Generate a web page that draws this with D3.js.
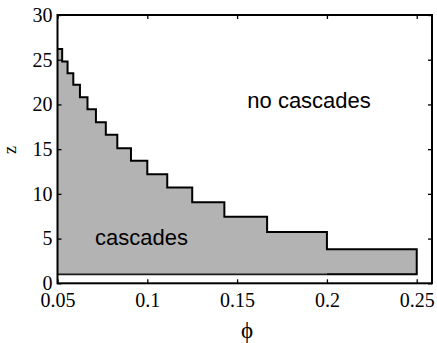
<!DOCTYPE html>
<html>
<head>
<meta charset="utf-8">
<script src="https://cdn.jsdelivr.net/npm/d3@7"></script>
<style>
  html, body { margin: 0; padding: 0; background: #fff; }
  svg { display: block; }
</style>
</head>
<body>
<svg id="chart" width="437" height="343"></svg>
<script>
// Step edges in phi (each step spans [phiEdges[i], phiEdges[i+1]])
const phiEdges = [0.05, 0.0526, 0.0556, 0.0588, 0.0625, 0.0667, 0.0714, 0.0769,
                  0.0833, 0.0909, 0.1, 0.1111, 0.125, 0.1429, 0.1667, 0.2, 0.25];
// Upper z bound of the cascade window on each step
const zUpper = [26.2, 24.8, 23.5, 22.2, 20.8, 19.45, 18.0, 16.6,
                15.1, 13.7, 12.2, 10.7, 9.05, 7.45, 5.75, 3.8];
// Lower z bound of the cascade window
const zLower = 1;

const xTicks = [0.05, 0.1, 0.15, 0.2, 0.25];
const xTickLabels = ["0.05", "0.1", "0.15", "0.2", "0.25"];
const yTicks = [0, 5, 10, 15, 20, 25, 30];
const yTickLabels = ["0", "5", "10", "15", "20", "25", "30"];
const xDomain = [0.05, 0.2585];
const yDomain = [0, 30];

const margin = { left: 57.5, top: 15, right: 5, bottom: 59.7 };
const W = 437, H = 343;
const iw = W - margin.left - margin.right;
const ih = H - margin.top - margin.bottom;

const svg = d3.select("#chart");
const g = svg.append("g").attr("transform", `translate(${margin.left},${margin.top})`);

const x = d3.scaleLinear().domain(xDomain).range([0, iw]);
const y = d3.scaleLinear().domain(yDomain).range([ih, 0]);

// Staircase outline: top edge step by step, then back along z = zLower
const pts = [];
zUpper.forEach((z, i) => {
  pts.push([phiEdges[i], z]);
  pts.push([phiEdges[i + 1], z]);
});
const last = phiEdges[phiEdges.length - 1];
pts.push([last, zLower]);
pts.push([phiEdges[0], zLower]);

const line = d3.line().x(d => x(d[0])).y(d => y(d[1]));

g.append("path")
  .attr("d", line(pts) + "Z")
  .attr("fill", "#b3b3b3")
  .attr("stroke", "none");

// Lower edge z = zLower
g.append("path")
  .attr("d", line([[phiEdges[0], zLower], [phiEdges[phiEdges.length - 2], zLower]]))
  .attr("fill", "none")
  .attr("stroke", "#1a1a1a")
  .attr("stroke-width", 1.6);

// Top/right outline of the window, closing along the last step's base
const outline = pts.slice(0, pts.length - 1).concat([[phiEdges[phiEdges.length - 2], zLower]]);
g.append("path")
  .attr("d", line(outline))
  .attr("fill", "none")
  .attr("stroke", "#000")
  .attr("stroke-width", 2)
  .attr("stroke-linejoin", "miter");

// Axes (ticks point inward, box frame)
const tickLen = 4;
const fontSerif = "'Liberation Serif', 'Times New Roman', serif";
const fontSans = "'Liberation Sans', Arial, sans-serif";

const xAxisB = d3.axisBottom(x).tickValues(xTicks).tickFormat((d, i) => xTickLabels[i])
  .tickSizeInner(-tickLen).tickSizeOuter(0).tickPadding(tickLen + 6);
const xAxisT = d3.axisTop(x).tickValues(xTicks).tickFormat("")
  .tickSizeInner(-tickLen).tickSizeOuter(0);
const yAxisL = d3.axisLeft(y).tickValues(yTicks).tickFormat((d, i) => yTickLabels[i])
  .tickSizeInner(-tickLen).tickSizeOuter(0).tickPadding(tickLen + 1);
const yAxisR = d3.axisRight(y).tickValues(yTicks).tickFormat("")
  .tickSizeInner(-tickLen).tickSizeOuter(0);

function styleAxis(sel) {
  sel.attr("font-family", fontSerif).attr("font-size", 20);
  sel.select(".domain").remove();
  sel.selectAll("line").attr("stroke", "#000").attr("stroke-width", 1.3);
  sel.selectAll("text").attr("fill", "#000");
}

g.append("g").attr("transform", `translate(0,${ih})`).call(xAxisB).call(styleAxis);
g.append("g").call(xAxisT).call(styleAxis);
g.append("g").call(yAxisL).call(styleAxis);
g.append("g").attr("transform", `translate(${iw},0)`).call(yAxisR).call(styleAxis);

g.append("rect")
  .attr("x", 0).attr("y", 0).attr("width", iw).attr("height", ih)
  .attr("fill", "none").attr("stroke", "#000").attr("stroke-width", 2);

// Region labels
g.append("text")
  .attr("x", 95 - margin.left).attr("y", 245 - margin.top)
  .attr("font-family", fontSans).attr("font-size", 22)
  .text("cascades");
g.append("text")
  .attr("x", 247.3 - margin.left).attr("y", 108.3 - margin.top)
  .attr("font-family", fontSans).attr("font-size", 22)
  .text("no cascades");

// Axis titles
svg.append("text")
  .attr("x", 247).attr("y", 338)
  .attr("text-anchor", "middle")
  .attr("font-family", fontSerif).attr("font-size", 23)
  .text("\u03d5");
svg.append("text")
  .attr("transform", "translate(16,150) rotate(-90)")
  .attr("text-anchor", "middle")
  .attr("font-family", fontSerif).attr("font-size", 18)
  .text("z");
</script>
</body>
</html>
